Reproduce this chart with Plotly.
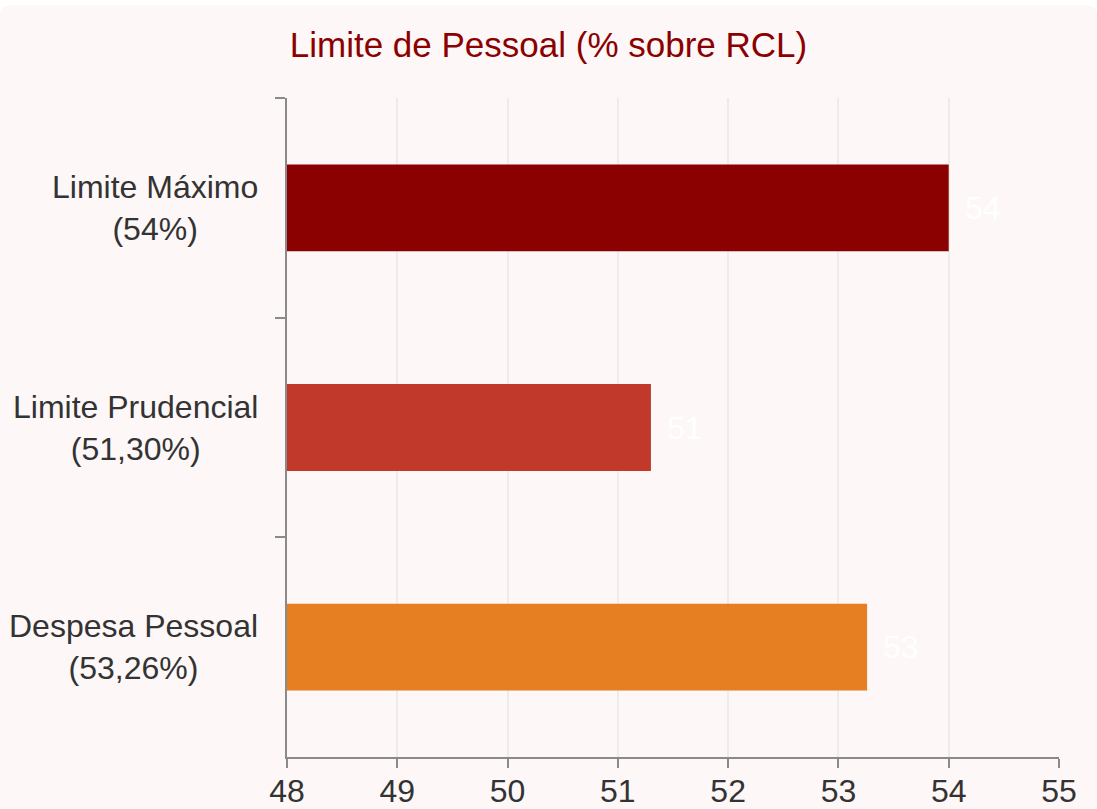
import plotly.graph_objects as go

# ---- data ----
categories = ["Limite Máximo", "Limite Prudencial", "Despesa Pessoal"]
category_labels = ["Limite Máximo<br>(54%)", "Limite Prudencial<br>(51,30%)", "Despesa Pessoal<br>(53,26%)"]
values = [54.0, 51.3, 53.26]
bar_colors = ["#8B0000", "#C0392B", "#E67E22"]
x_ticks = [48, 49, 50, 51, 52, 53, 54, 55]
title_text = "Limite de Pessoal (% sobre RCL)"

W, H = 1097, 809
ML, MR, MT, MB = 287, 38, 98, 52
PW, PH = W - ML - MR, H - MT - MB

FONT = "Liberation Sans, Arial, sans-serif"
AXIS = "#8a8a8a"

fig = go.Figure()
fig.add_trace(go.Bar(
    y=categories, x=values, orientation="h",
    marker=dict(color=bar_colors, line=dict(width=0)),
    width=0.395, hoverinfo="x+y", showlegend=False,
))

annotations = []
for cat, lab in zip(categories, category_labels):
    annotations.append(dict(
        x=0, xref="paper", y=cat, yref="y", text=lab, showarrow=False,
        xanchor="right", yanchor="middle", align="center", xshift=-27,
        font=dict(family=FONT, size=32, color="#333333"),
    ))
for cat, v in zip(categories, values):
    annotations.append(dict(
        x=v, xref="x", y=cat, yref="y", text=f"{round(v)}", showarrow=False,
        xanchor="left", yanchor="middle", xshift=14,
        font=dict(family=FONT, size=32, color="#ffffff"),
    ))

# rounded pink card background (in paper coordinates of the plot area)
def px_x(p):
    return (p - ML) / PW

def px_y(p):
    return (H - MB - p) / PH

r = 11
x0, x1, y0, y1 = 0, W, 5, H + 20
path = (
    f"M {px_x(x0)},{px_y(y1)} "
    f"L {px_x(x0)},{px_y(y0 + r)} "
    f"Q {px_x(x0)},{px_y(y0)} {px_x(x0 + r)},{px_y(y0)} "
    f"L {px_x(x1 - r)},{px_y(y0)} "
    f"Q {px_x(x1)},{px_y(y0)} {px_x(x1)},{px_y(y0 + r)} "
    f"L {px_x(x1)},{px_y(y1)} Z"
)

fig.update_layout(
    width=W, height=H,
    margin=dict(l=ML, r=MR, t=MT, b=MB, pad=0),
    paper_bgcolor="#ffffff",
    plot_bgcolor="rgba(0,0,0,0)",
    title=dict(text=title_text, x=0.5, xanchor="center", y=1 - 45 / H, yanchor="middle",
               yref="container", font=dict(family=FONT, size=35, color="#8B0000")),
    shapes=[dict(type="path", path=path, xref="paper", yref="paper",
                 fillcolor="#fdf7f7", line=dict(width=0), layer="below")],
    annotations=annotations,
    font=dict(family=FONT),
    xaxis=dict(
        range=[48, 55], tickvals=x_ticks, ticktext=[str(t) for t in x_ticks],
        showgrid=True, gridcolor="#ececec", gridwidth=1.5,
        showline=True, linecolor=AXIS, linewidth=2,
        ticks="outside", ticklen=9, tickwidth=2, tickcolor=AXIS,
        ticklabelstandoff=-4,
        tickfont=dict(family=FONT, size=32, color="#333333"),
        zeroline=False, fixedrange=True, automargin=False,
    ),
    yaxis=dict(
        type="category", autorange="reversed", tickson="boundaries",
        showgrid=False, showline=True, linecolor=AXIS, linewidth=2,
        ticks="outside", ticklen=10, tickwidth=2, tickcolor=AXIS,
        showticklabels=False, zeroline=False, fixedrange=True, automargin=False,
    ),
)

fig.write_html("out.html", config={"displayModeBar": False},
               post_script="document.body.style.margin='0';document.body.style.overflow='hidden';")
